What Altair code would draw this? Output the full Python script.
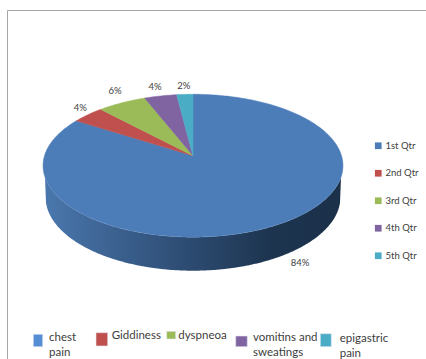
import math
import altair as alt
import pandas as pd

# Chart values
symptoms = ["chest pain", "Giddiness", "dyspneoa", "vomitins and sweatings", "epigastric pain"]
shares = [84, 4, 6, 4, 2]
percent_labels = ["84%", "4%", "6%", "4%", "2%"]
quarters = ["1st Qtr", "2nd Qtr", "3rd Qtr", "4th Qtr", "5th Qtr"]

# Styling
slice_colors = ["#4C7DB9", "#C0504D", "#9BBB59", "#8064A2", "#4BACC6"]
key_colors = ["#558ED5", "#C0504D", "#9BBB59", "#8064A2", "#4BACC6"]
FONT = "Lato"
TEXT = "#404040"
W, H = 426, 359

# Tilted-disc projection of the pie top
CX, CY = 193.0, 155.7
RX, RY, PERSP = 148.5, 70.0, 0.1395


def project(turn):
    """Screen point for a fraction of a turn, anticlockwise from 12 o'clock."""
    a = turn * 2 * math.pi
    u, v = -math.sin(a), math.cos(a)
    d = 1 + PERSP * v
    return CX + RX * u / d, CY - RY * v / d


x_scale = alt.Scale(domain=[0, W], range=[0, W])
y_scale = alt.Scale(domain=[0, H], range=[0, H])
X = alt.X("x:Q", axis=None, scale=x_scale)
Y = alt.Y("y:Q", axis=None, scale=y_scale)
X2 = alt.X2("x2:Q")
Y2 = alt.Y2("y2:Q")

layers = []

# Side wall of the disc: between the lower rim of the top face and the base rim
ell_cx, ell_cy, ell_a, ell_b = 193.0, 165.7, 150.0, 71.5
base_cy, base_a, base_b = 197.0, 147.5, 73.7
wall = []
for i in range(0, 301):
    x = ell_cx - ell_a + i
    t = max(0.0, 1 - ((x - ell_cx) / ell_a) ** 2)
    top = ell_cy + ell_b * math.sqrt(t)
    s = 1 - ((x - ell_cx) / base_a) ** 2
    bottom = base_cy + base_b * math.sqrt(s) if s > 0 else top
    wall.append({"x": x, "y": top, "y2": max(top, bottom)})
wall_fill = alt.Gradient(
    gradient="linear", x1=0, x2=1, y1=0, y2=0,
    stops=[
        alt.GradientStop(color="#4A78AE", offset=0),
        alt.GradientStop(color="#3E6595", offset=0.2),
        alt.GradientStop(color="#2C4A70", offset=0.5),
        alt.GradientStop(color="#1D3550", offset=0.75),
        alt.GradientStop(color="#1B3049", offset=1),
    ],
)
layers.append(
    alt.Chart(pd.DataFrame(wall)).mark_area(color=wall_fill).encode(x=X, y=Y, y2=Y2)
)

# Slice spans as fractions of a turn: the last slice starts at 12 o'clock
total = sum(shares)
edge = 0.0
spans = []
for v in reversed(shares):
    spans.append((edge, edge + v / total))
    edge += v / total
spans = spans[::-1]

# Pie slices, each outlined from the centre along its arc and filled
for (a0, a1), color in zip(spans, slice_colors):
    n = max(3, int((a1 - a0) * 360))
    pts = [(CX, CY)] + [project(a0 + (a1 - a0) * k / n) for k in range(n + 1)] + [(CX, CY)]
    frame = pd.DataFrame(
        {"x": [p[0] for p in pts], "y": [p[1] for p in pts], "o": list(range(len(pts)))}
    )
    layers.append(
        alt.Chart(frame)
        .mark_line(fill=color, stroke=color, strokeWidth=0.5, interpolate="linear")
        .encode(x=X, y=Y, order="o:Q")
    )

# Percentage labels, placed from each slice's arc midpoint
label_nudges = [(25.5, 37.0), (-7.7, -6.7), (-6.8, -12.2), (-5.5, -9.3), (-1.0, -8.4)]
label_rows = []
for (a0, a1), text, (dx, dy) in zip(spans, percent_labels, label_nudges):
    px, py = project((a0 + a1) / 2)
    label_rows.append({"x": px + dx, "y": py + dy, "label": text})
layers.append(
    alt.Chart(pd.DataFrame(label_rows))
    .mark_text(font=FONT, fontSize=9.5, color=TEXT, align="center", baseline="middle")
    .encode(x=X, y=Y, text="label:N")
)

# Frame on the top and left
layers.append(
    alt.Chart(pd.DataFrame({"x": [7.5], "y": [10.5], "x2": [W], "y2": [10.5]}))
    .mark_rule(color="#A6A6A6", strokeWidth=1)
    .encode(x=X, y=Y, x2=X2, y2=Y2)
)
layers.append(
    alt.Chart(pd.DataFrame({"x": [7.5], "y": [10.5], "x2": [7.5], "y2": [H]}))
    .mark_rule(color="#A6A6A6", strokeWidth=1)
    .encode(x=X, y=Y, x2=X2, y2=Y2)
)

# Symptom key along the bottom
key_boxes = [
    (33.3, 42.7, 334.3, 346.7),
    (96.0, 107.7, 332.7, 346.0),
    (166.7, 175.7, 331.3, 339.0),
    (235.7, 247.3, 336.0, 346.7),
    (320.3, 331.3, 333.7, 346.7),
]
key_lines = [
    [("chest", 49.0, 337.7), ("pain", 49.0, 352.7)],
    [("Giddiness", 111.7, 336.0)],
    [("dyspneoa", 178.3, 336.0)],
    [("vomitins and", 253.0, 338.3), ("sweatings", 253.0, 353.3)],
    [("epigastric", 339.7, 339.0), ("pain", 339.7, 354.0)],
]
box_rows = [
    {"x": b[0], "x2": b[1], "y": b[2], "y2": b[3], "name": s}
    for b, s in zip(key_boxes, symptoms)
]
for row, color in zip(box_rows, key_colors):
    layers.append(
        alt.Chart(pd.DataFrame([row]))
        .mark_rect(fill=color, stroke="#E4E8F0", strokeWidth=0.6)
        .encode(x=X, x2=X2, y=Y, y2=Y2)
    )
text_rows = [
    {"x": x, "y": y, "label": t} for lines in key_lines for (t, x, y) in lines
]
layers.append(
    alt.Chart(pd.DataFrame(text_rows))
    .mark_text(font=FONT, fontSize=11.5, color=TEXT, align="left", baseline="middle")
    .encode(x=X, y=Y, text="label:N")
)

# Quarter legend on the right, driven by a colour scale
layers.append(
    alt.Chart(pd.DataFrame({"q": quarters, "x": [0] * 5, "y": [0] * 5}))
    .mark_square(opacity=0, size=1)
    .encode(
        x=X,
        y=Y,
        color=alt.Color(
            "q:N",
            scale=alt.Scale(domain=quarters, range=slice_colors),
            legend=alt.Legend(
                title=None,
                orient="none",
                legendX=373.5,
                legendY=141,
                symbolType="square",
                symbolSize=45,
                symbolOpacity=1,
                symbolStrokeWidth=0,
                labelFont=FONT,
                labelFontSize=9.5,
                labelColor=TEXT,
                labelOffset=2.5,
                rowPadding=16.5,
            ),
        ),
    )
)

chart = (
    alt.layer(*layers)
    .properties(width=W, height=H, padding=0, background="white", autosize=alt.AutoSizeParams(type="none"))
    .configure_view(stroke=None)
)

chart.save("out.html", embed_options={"renderer": "svg", "actions": False})
